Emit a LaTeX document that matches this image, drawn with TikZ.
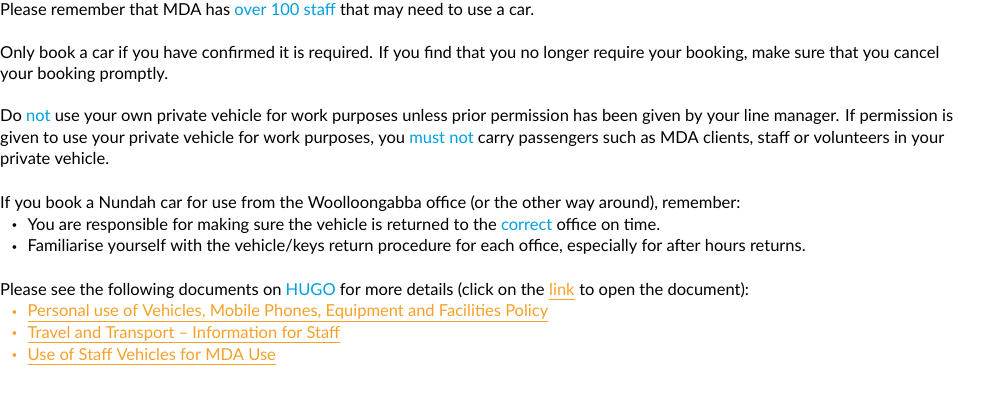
\documentclass[tikz,border=0pt]{standalone}
\usepackage{fontspec}
\setmainfont{Lato}
\usetikzlibrary{positioning}
\definecolor{mdablue}{RGB}{0,160,222}
\definecolor{mdaorange}{RGB}{247,160,40}
\newcommand{\hl}[1]{\textcolor{mdablue}{#1}}
\tikzset{
  para/.style={anchor=base west, inner sep=0pt, align=left,
    font=\fontsize{16.5}{21.5}\selectfont},
  item/.style={para, xshift=27.5pt},
  linktext/.style={para, text=mdaorange},
  dot/.style={anchor=base west, inner sep=0pt, yshift=1.6pt, font=\fontsize{10}{12}\selectfont},
  uline/.style={draw=mdaorange, line width=1pt}
}
\begin{document}
\begin{tikzpicture}[x=1pt,y=1pt]
	\useasboundingbox (0,0) rectangle (989,-414);
	\node [para] (intro) at (0,-16) {Please remember that MDA has \hl{over 100 staff} that may need to use a car.};
	\node [para] (book) at (0,-80) {Only book a car if you have confirmed it is required. If you find that you no longer require your booking, make sure that you cancel\\your booking promptly.};
	\node [para] (own) at (0,-165) {Do \hl{not} use your own private vehicle for work purposes unless prior permission has been given by your line manager. If permission is\\given to use your private vehicle for work purposes, you \hl{must not} carry passengers such as MDA clients, staff or volunteers in your\\private vehicle.};
	\node [para] (office) at (0,-209) {If you book a Nundah car for use from the Woolloongabba office (or the other way around), remember:};
	\node [dot] (d1) at (11.5,-230.5) {\textbullet};
	\node [item] (i1) at (0,-230.5) {You are responsible for making sure the vehicle is returned to the \hl{correct} office on time.};
	\node [dot] (d2) at (11.5,-252) {\textbullet};
	\node [item] (i2) at (0,-252) {Familiarise yourself with the vehicle/keys return procedure for each office, especially for after hours returns.};
	\node [para] (docs) at (0,-295.5) {Please see the following documents on \hl{HUGO} for more details (click on the\ \null};
	\node [linktext, base right=0pt of docs] (linkword) {link};
	\node [para, base right=0pt of linkword] (docsend) {\null\ to open the document):};
	\node [dot, text=mdaorange] (d3) at (11.5,-317) {\textbullet};
	\node [item, text=mdaorange] (l1) at (0,-317) {Personal use of Vehicles, Mobile Phones, Equipment and Facilities Policy};
	\node [dot, text=mdaorange] (d4) at (11.5,-338.5) {\textbullet};
	\node [item, text=mdaorange] (l2) at (0,-338.5) {Travel and Transport -- Information for Staff};
	\node [dot, text=mdaorange] (d5) at (11.5,-360) {\textbullet};
	\node [item, text=mdaorange] (l3) at (0,-360) {Use of Staff Vehicles for MDA Use};

	% link underlines
	\foreach \l in {linkword,l1,l2,l3}
		\draw [uline] ([yshift=-4.5pt]\l.base west) -- ([yshift=-4.5pt]\l.base east);
\end{tikzpicture}
\end{document}
